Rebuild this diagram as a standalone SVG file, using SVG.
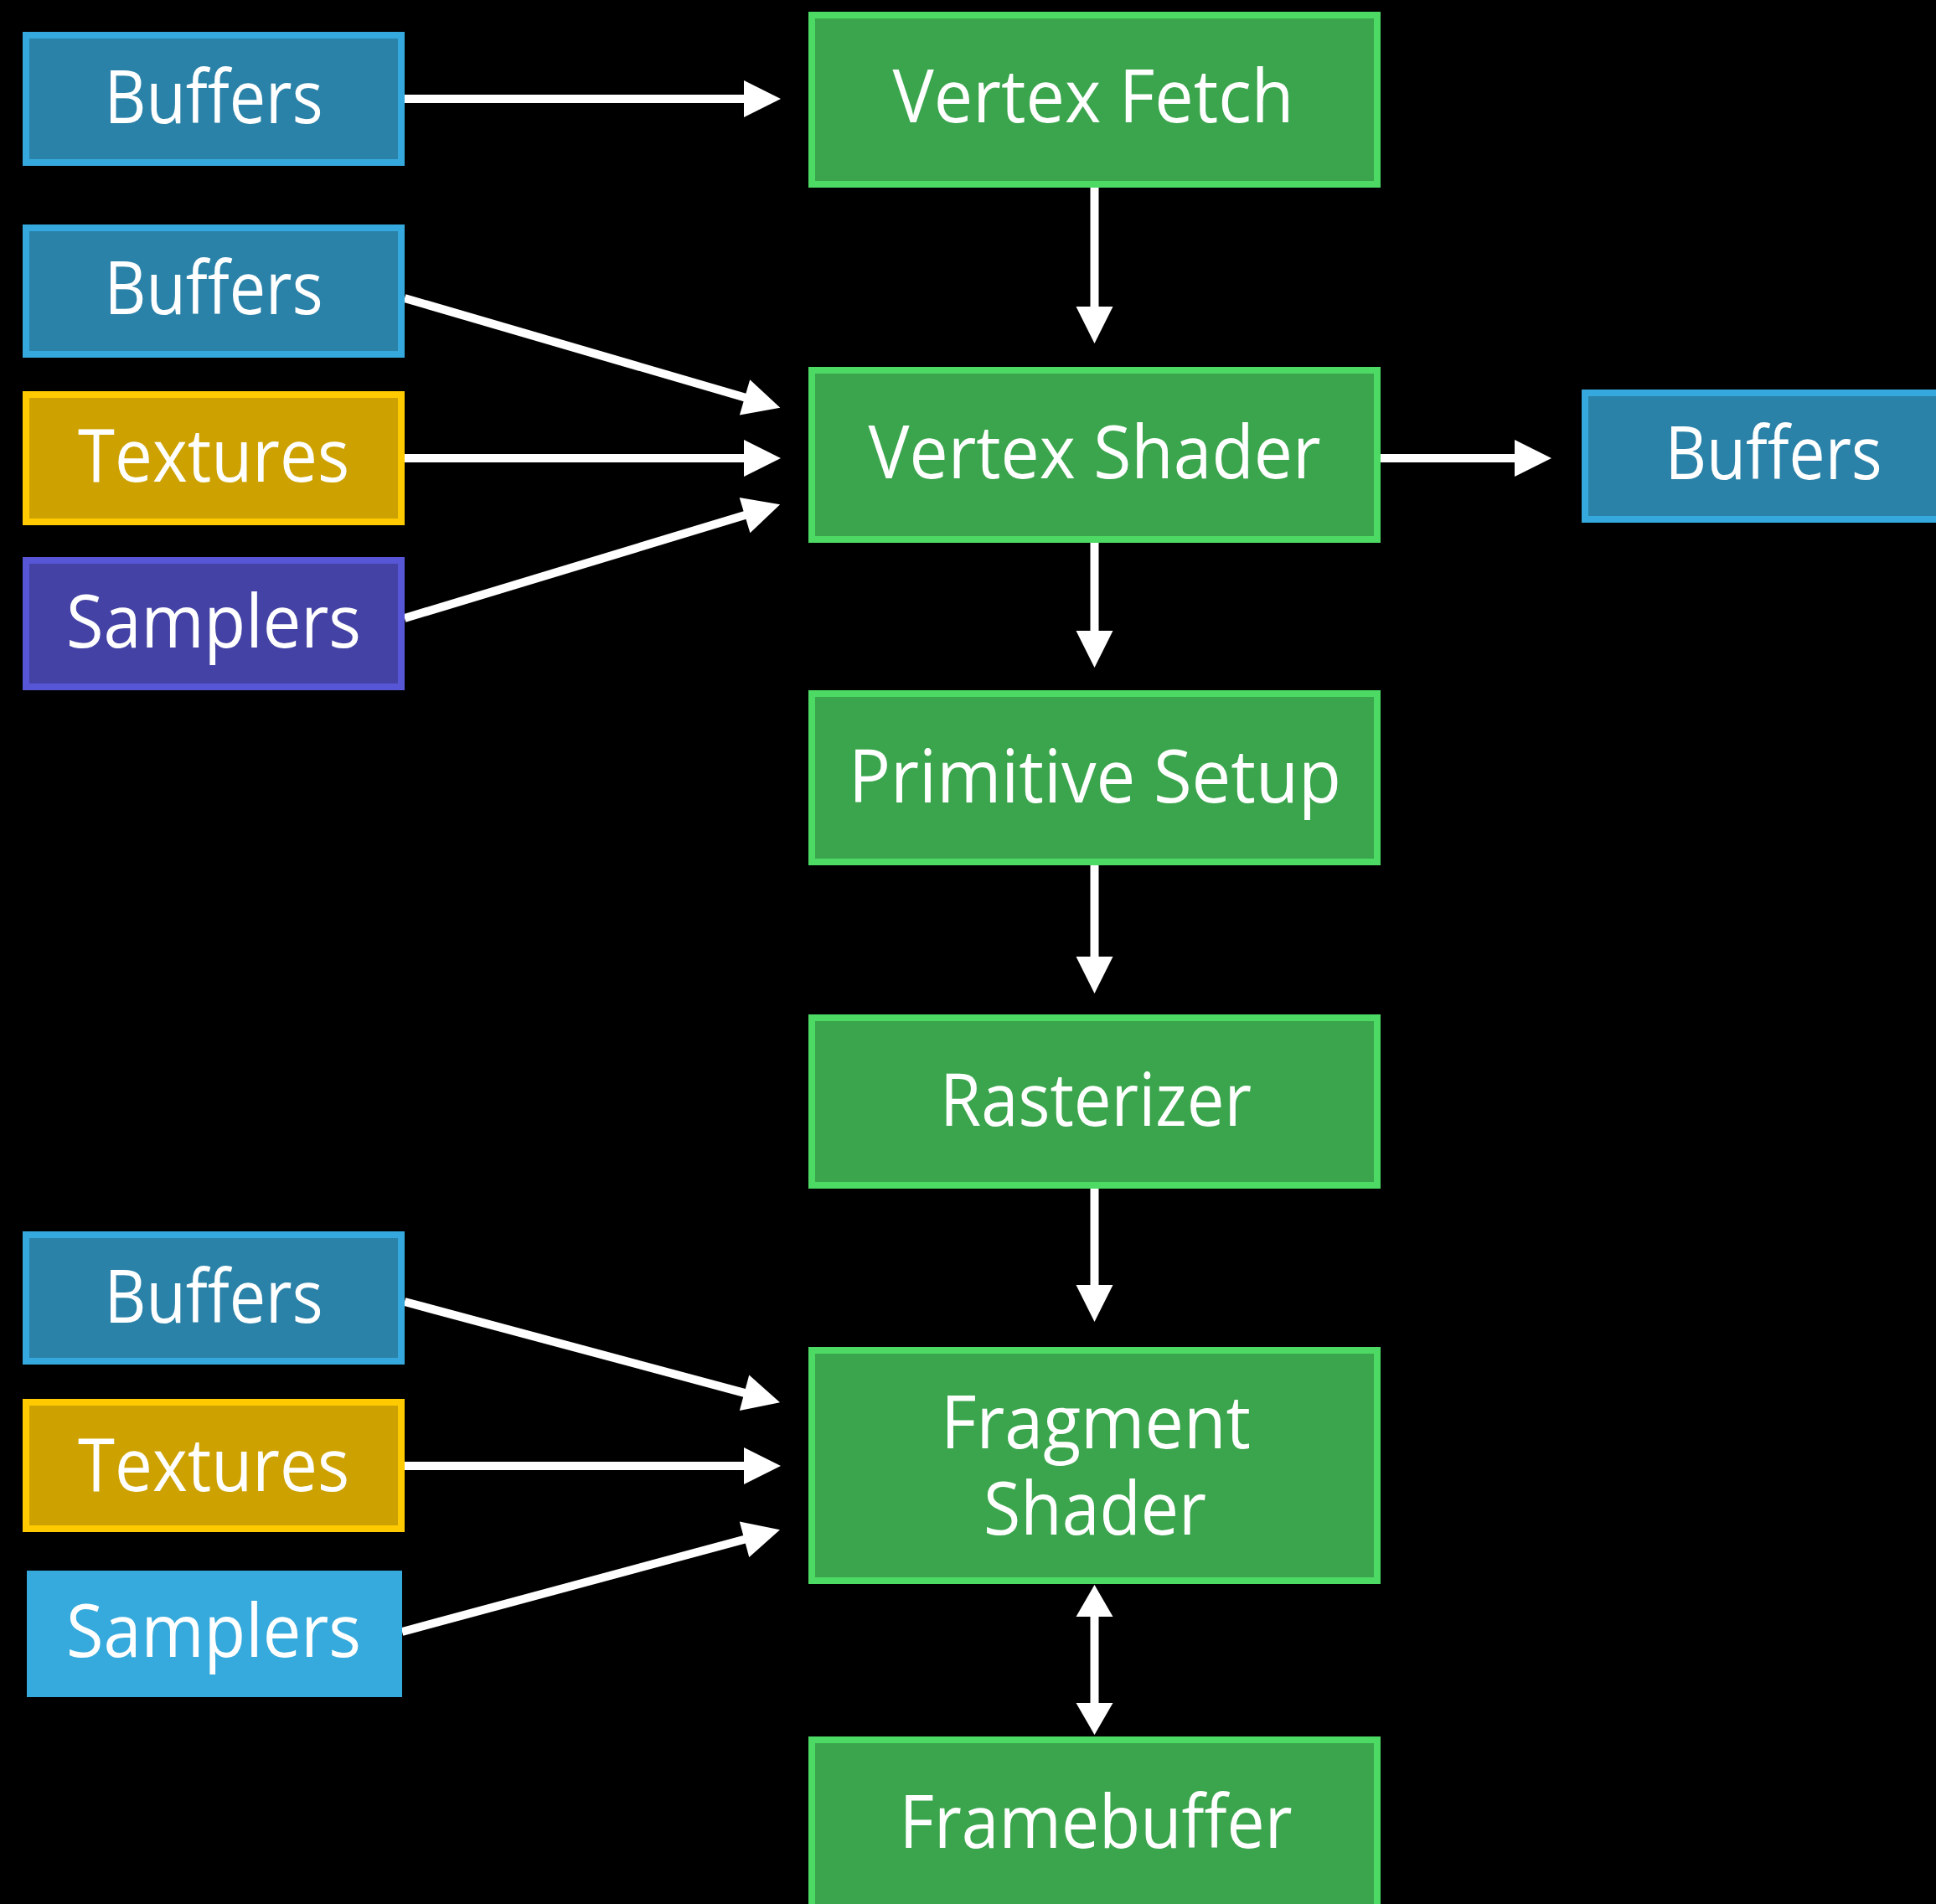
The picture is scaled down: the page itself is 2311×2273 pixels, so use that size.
<svg xmlns="http://www.w3.org/2000/svg" width="2311" height="2273" viewBox="0 0 2311 2273">
  <style>
    .bg { fill: #000000; }
    .buf { fill: #2a82a8; stroke: #35a9dd; stroke-width: 8; }
    .tex { fill: #cda200; stroke: #ffcb00; stroke-width: 8; }
    .smp { fill: #4443a5; stroke: #5756d6; stroke-width: 8; }
    .smp2 { fill: #36aadc; }
    .stage { fill: #3aa54c; stroke: #4cd964; stroke-width: 8; }
    .lbl { font-family: "Open Sans", "Noto Sans", "Liberation Sans", sans-serif; font-size: 88px; fill: #ffffff; text-anchor: middle; }
    .wire { stroke: #ffffff; stroke-width: 10; fill: none; }
  </style>
  <defs>
    <marker id="head" viewBox="0 -22 44 44" markerWidth="44" markerHeight="44" refX="1" refY="0" orient="auto" markerUnits="userSpaceOnUse" overflow="visible">
      <path d="M0,-22 L44,0 L0,22 Z" fill="#ffffff"/>
    </marker>
    <marker id="head-short" viewBox="0 -22 38 44" markerWidth="38" markerHeight="44" refX="1" refY="0" orient="auto-start-reverse" markerUnits="userSpaceOnUse" overflow="visible">
      <path d="M0,-22 L38,0 L0,22 Z" fill="#ffffff"/>
    </marker>
  </defs>

  <rect class="bg" x="0" y="0" width="2311" height="2273"/>

  <!-- connectors -->
  <g id="connectors">
    <line class="wire" x1="483" y1="118" x2="889" y2="118" marker-end="url(#head)"/>
    <line class="wire" x1="483" y1="356" x2="890" y2="474.7" marker-end="url(#head)"/>
    <line class="wire" x1="483" y1="547" x2="889" y2="547" marker-end="url(#head)"/>
    <line class="wire" x1="483" y1="738" x2="890" y2="614.8" marker-end="url(#head)"/>
    <line class="wire" x1="1306.5" y1="224" x2="1306.5" y2="367" marker-end="url(#head)"/>
    <line class="wire" x1="1648" y1="547" x2="1809" y2="547" marker-end="url(#head)"/>
    <line class="wire" x1="1306.5" y1="648" x2="1306.5" y2="754" marker-end="url(#head)"/>
    <line class="wire" x1="1306.5" y1="1033" x2="1306.5" y2="1143" marker-end="url(#head)"/>
    <line class="wire" x1="1306.5" y1="1419" x2="1306.5" y2="1535" marker-end="url(#head)"/>
    <line class="wire" x1="483" y1="1554" x2="889.5" y2="1663.1" marker-end="url(#head)"/>
    <line class="wire" x1="483" y1="1750" x2="889" y2="1750" marker-end="url(#head)"/>
    <line class="wire" x1="480" y1="1948" x2="889.5" y2="1837.5" marker-end="url(#head)"/>
    <line class="wire" x1="1306.5" y1="1929" x2="1306.5" y2="2034" marker-start="url(#head-short)" marker-end="url(#head-short)"/>
  </g>

  <!-- vertex inputs -->
  <g id="buffers-vertex-fetch">
    <rect class="buf" x="31" y="42" width="448" height="152"/>
    <text class="lbl" x="255" y="147" textLength="261" lengthAdjust="spacingAndGlyphs">Buffers</text>
  </g>
  <g id="buffers-vertex">
    <rect class="buf" x="31" y="272" width="448" height="151"/>
    <text class="lbl" x="255" y="375" textLength="261" lengthAdjust="spacingAndGlyphs">Buffers</text>
  </g>
  <g id="textures-vertex">
    <rect class="tex" x="31" y="471" width="448" height="152"/>
    <text class="lbl" x="255" y="575" textLength="324" lengthAdjust="spacingAndGlyphs">Textures</text>
  </g>
  <g id="samplers-vertex">
    <rect class="smp" x="31" y="669" width="448" height="151"/>
    <text class="lbl" x="255" y="773" textLength="352" lengthAdjust="spacingAndGlyphs">Samplers</text>
  </g>

  <!-- fragment inputs -->
  <g id="buffers-fragment">
    <rect class="buf" x="31" y="1474" width="448" height="151"/>
    <text class="lbl" x="255" y="1579" textLength="261" lengthAdjust="spacingAndGlyphs">Buffers</text>
  </g>
  <g id="textures-fragment">
    <rect class="tex" x="31" y="1674" width="448" height="151"/>
    <text class="lbl" x="255" y="1780" textLength="324" lengthAdjust="spacingAndGlyphs">Textures</text>
  </g>
  <g id="samplers-fragment">
    <rect class="smp2" x="32" y="1875" width="448" height="151"/>
    <text class="lbl" x="255" y="1978" textLength="352" lengthAdjust="spacingAndGlyphs">Samplers</text>
  </g>

  <!-- vertex output -->
  <g id="buffers-output">
    <rect class="buf" x="1892" y="469" width="448" height="151"/>
    <text class="lbl" x="2117" y="572" textLength="259" lengthAdjust="spacingAndGlyphs">Buffers</text>
  </g>

  <!-- pipeline stages -->
  <g id="vertex-fetch">
    <rect class="stage" x="969" y="18" width="675" height="202"/>
    <text class="lbl" x="1305" y="146" textLength="479" lengthAdjust="spacingAndGlyphs">Vertex Fetch</text>
  </g>
  <g id="vertex-shader">
    <rect class="stage" x="969" y="442" width="675" height="202"/>
    <text class="lbl" x="1306.5" y="571" textLength="540" lengthAdjust="spacingAndGlyphs">Vertex Shader</text>
  </g>
  <g id="primitive-setup">
    <rect class="stage" x="969" y="828" width="675" height="201"/>
    <text class="lbl" x="1307" y="958" textLength="588" lengthAdjust="spacingAndGlyphs">Primitive Setup</text>
  </g>
  <g id="rasterizer">
    <rect class="stage" x="969" y="1215" width="675" height="200"/>
    <text class="lbl" x="1308" y="1344" textLength="372" lengthAdjust="spacingAndGlyphs">Rasterizer</text>
  </g>
  <g id="fragment-shader">
    <rect class="stage" x="969" y="1612" width="675" height="275"/>
    <text class="lbl" x="1308" y="1729" textLength="370" lengthAdjust="spacingAndGlyphs">Fragment</text>
    <text class="lbl" x="1307" y="1832" textLength="266" lengthAdjust="spacingAndGlyphs">Shader</text>
  </g>
  <g id="framebuffer">
    <rect class="stage" x="969" y="2077" width="675" height="210"/>
    <text class="lbl" x="1308" y="2206" textLength="469" lengthAdjust="spacingAndGlyphs">Framebuffer</text>
  </g>
</svg>
